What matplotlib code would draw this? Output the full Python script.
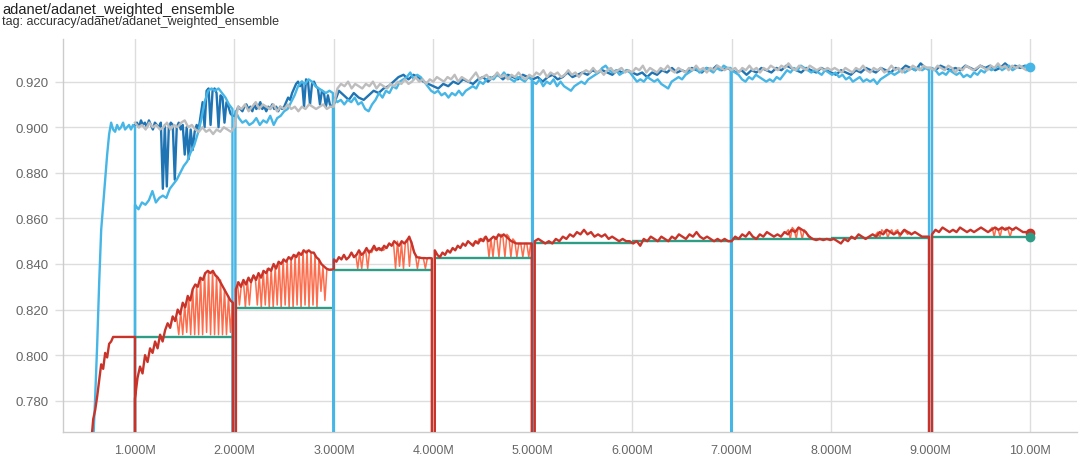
import numpy as np
import matplotlib
matplotlib.use("Agg")
import matplotlib.pyplot as plt

plt.rcParams['font.family'] = ['Liberation Sans', 'DejaVu Sans']

# value used where a run restarts and falls below the visible range
DROP = 0.70

# ---- light blue run ----
lb_a = [0.762, 0.782, 0.805, 0.832, 0.855, 0.866, 0.877, 0.888, 0.897, 0.902, 0.899,
        0.898, 0.901, 0.899, 0.900, 0.902, 0.899, 0.900, 0.901, 0.899, 0.901, 0.900]
lb_b = [0.866, 0.864, 0.867, 0.866, 0.868, 0.872, 0.867, 0.869, 0.870, 0.869, 0.873,
        0.875, 0.877, 0.880, 0.883, 0.885, 0.889, 0.892, 0.897, 0.903, 0.911, 0.916,
        0.917, 0.916, 0.917, 0.915, 0.913, 0.910, 0.908]
lb_c = [0.907, 0.904, 0.902, 0.903, 0.901, 0.902, 0.904, 0.901, 0.903, 0.902, 0.905,
        0.901, 0.904, 0.905, 0.907, 0.908, 0.911, 0.914, 0.918, 0.920, 0.919, 0.921,
        0.920, 0.918, 0.917, 0.916, 0.915, 0.916, 0.915]
lb_d = [0.913, 0.911, 0.912, 0.910, 0.912, 0.911, 0.913, 0.910, 0.911, 0.908, 0.907,
        0.910, 0.912, 0.915, 0.913, 0.916, 0.915, 0.918, 0.917, 0.920, 0.921, 0.922,
        0.924, 0.921, 0.923, 0.922, 0.920, 0.918, 0.916, 0.915, 0.916, 0.914, 0.915,
        0.913, 0.915, 0.914, 0.916, 0.914, 0.916, 0.917, 0.918, 0.917, 0.920, 0.919,
        0.921, 0.922, 0.921, 0.923, 0.922, 0.924, 0.922, 0.921, 0.920, 0.922, 0.921,
        0.920, 0.922, 0.921]
lb_e = [0.920, 0.919, 0.921, 0.918, 0.920, 0.919, 0.921, 0.918, 0.920, 0.918, 0.917,
        0.916, 0.918, 0.919, 0.920, 0.919, 0.921, 0.922, 0.923, 0.924, 0.926, 0.927,
        0.925, 0.924, 0.925, 0.923, 0.924, 0.925, 0.924, 0.922, 0.920, 0.921, 0.920,
        0.922, 0.921, 0.920, 0.921, 0.919, 0.918, 0.917, 0.920, 0.921, 0.922, 0.921,
        0.923, 0.924, 0.925, 0.926, 0.924, 0.925, 0.926, 0.925, 0.924, 0.926, 0.925,
        0.927, 0.926, 0.926]
lb_f = [0.925, 0.924, 0.923, 0.921, 0.920, 0.922, 0.921, 0.923, 0.922, 0.921, 0.920,
        0.921, 0.920, 0.922, 0.921, 0.923, 0.925, 0.924, 0.926, 0.925, 0.927, 0.926,
        0.925, 0.924, 0.925, 0.924, 0.923, 0.925, 0.924, 0.923, 0.924, 0.922, 0.923,
        0.921, 0.922, 0.920, 0.921, 0.922, 0.920, 0.921, 0.920, 0.921, 0.919, 0.921,
        0.922, 0.923, 0.924, 0.923, 0.924, 0.925, 0.924, 0.925, 0.926, 0.925, 0.926,
        0.925, 0.926, 0.925]
lb_g = [0.926, 0.925, 0.923, 0.924, 0.923, 0.925, 0.924, 0.923, 0.924, 0.922, 0.923,
        0.922, 0.924, 0.923, 0.925, 0.924, 0.926, 0.925, 0.926, 0.927, 0.925, 0.926,
        0.927, 0.925, 0.926, 0.927, 0.926, 0.927, 0.9266]
light_blue = [(0.58, 1.00, lb_a), (1.00, 1.00, [DROP]), (1.00, 1.98, lb_b),
              (1.98, 2.01, [DROP, DROP]), (2.01, 2.99, lb_c), (3.00, 3.00, [DROP]),
              (3.00, 4.99, lb_d), (5.00, 5.00, [DROP]), (5.00, 6.99, lb_e),
              (7.00, 7.00, [DROP]), (7.00, 8.985, lb_f), (8.985, 9.015, [DROP, DROP]),
              (9.015, 10.0, lb_g)]

# ---- grey run ----
gr_1 = [0.902, 0.900, 0.901, 0.899, 0.902, 0.900, 0.901, 0.899, 0.900, 0.902, 0.899,
        0.901, 0.900, 0.902, 0.903, 0.900, 0.901, 0.899, 0.898, 0.900, 0.898, 0.899,
        0.897, 0.899, 0.898, 0.900, 0.899, 0.898, 0.900]
gr_2 = [0.900, 0.909, 0.908, 0.910, 0.907, 0.909, 0.911, 0.908, 0.910, 0.909, 0.908,
        0.910, 0.907, 0.909, 0.908, 0.910, 0.908, 0.909, 0.907, 0.909, 0.908, 0.910,
        0.909, 0.908, 0.909, 0.910, 0.908, 0.909, 0.909]
gr_3 = [0.910, 0.917, 0.919, 0.918, 0.920, 0.917, 0.919, 0.918, 0.917, 0.919, 0.918,
        0.920, 0.917, 0.919, 0.918, 0.917, 0.919, 0.918, 0.920, 0.919, 0.921, 0.919,
        0.920, 0.922, 0.920, 0.921, 0.919, 0.921, 0.920]
gr_4 = [0.920, 0.922, 0.921, 0.920, 0.922, 0.921, 0.923, 0.920, 0.922, 0.921, 0.920,
        0.922, 0.924, 0.921, 0.922, 0.923, 0.921, 0.922, 0.924, 0.922, 0.923, 0.921,
        0.923, 0.922, 0.924, 0.922, 0.921, 0.923, 0.922]
gr_5 = [0.922, 0.924, 0.923, 0.925, 0.922, 0.924, 0.923, 0.924, 0.922, 0.923, 0.925,
        0.923, 0.924, 0.922, 0.924, 0.925, 0.924, 0.926, 0.924, 0.925, 0.923, 0.925,
        0.926, 0.924, 0.925, 0.926, 0.924, 0.925, 0.924]
gr_6 = [0.924, 0.926, 0.925, 0.927, 0.924, 0.926, 0.925, 0.924, 0.926, 0.925, 0.927,
        0.925, 0.924, 0.926, 0.925, 0.924, 0.926, 0.925, 0.927, 0.925, 0.926, 0.924,
        0.926, 0.925, 0.927, 0.926, 0.925, 0.926, 0.925]
gr_7 = [0.925, 0.926, 0.924, 0.926, 0.925, 0.927, 0.925, 0.926, 0.924, 0.926, 0.925,
        0.927, 0.926, 0.925, 0.927, 0.926, 0.928, 0.926, 0.925, 0.927, 0.926, 0.925,
        0.927, 0.926, 0.925, 0.926, 0.925, 0.926, 0.925]
gr_8 = [0.925, 0.926, 0.925, 0.924, 0.926, 0.925, 0.924, 0.926, 0.925, 0.927, 0.925,
        0.924, 0.926, 0.925, 0.926, 0.924, 0.925, 0.927, 0.925, 0.926, 0.924, 0.926,
        0.925, 0.927, 0.926, 0.925, 0.927, 0.926, 0.926]
gr_9 = [0.926, 0.925, 0.927, 0.926, 0.925, 0.927, 0.926, 0.924, 0.926, 0.925, 0.927,
        0.926, 0.925, 0.926, 0.927, 0.926, 0.925, 0.927, 0.926, 0.928, 0.926, 0.927,
        0.925, 0.927, 0.926, 0.927, 0.926, 0.925, 0.926]
grey = [(1.0, 2.0, gr_1), (2.0, 3.0, gr_2), (3.0, 4.0, gr_3), (4.0, 5.0, gr_4),
        (5.0, 6.0, gr_5), (6.0, 7.0, gr_6), (7.0, 8.0, gr_7), (8.0, 9.0, gr_8),
        (9.0, 10.0, gr_9)]

# ---- dark blue run ----
db_1 = [0.901, 0.902, 0.900, 0.903, 0.901, 0.902, 0.900, 0.903, 0.901, 0.899, 0.902,
        0.901, 0.900, 0.902, 0.873, 0.901, 0.874, 0.900, 0.902, 0.901, 0.877, 0.900,
        0.902, 0.899, 0.901, 0.888, 0.900, 0.886, 0.899, 0.890, 0.898, 0.901, 0.899,
        0.905, 0.911, 0.900, 0.916, 0.917, 0.901, 0.916, 0.917, 0.915, 0.900, 0.914,
        0.913, 0.902, 0.911, 0.909, 0.906, 0.905]
db_2 = [0.905, 0.907, 0.909, 0.908, 0.907, 0.909, 0.910, 0.908, 0.909, 0.907, 0.910,
        0.908, 0.909, 0.911, 0.908, 0.909, 0.907, 0.909, 0.908, 0.910, 0.908, 0.909,
        0.907, 0.909, 0.908, 0.909, 0.911, 0.913, 0.912, 0.915, 0.917, 0.919, 0.920,
        0.918, 0.920, 0.909, 0.921, 0.920, 0.910, 0.919, 0.920, 0.918, 0.917, 0.910,
        0.916, 0.915, 0.909, 0.914, 0.910, 0.909]
db_3 = [0.910, 0.916, 0.914, 0.912, 0.915, 0.913, 0.912, 0.914, 0.916, 0.915, 0.917,
        0.918, 0.920, 0.922, 0.923, 0.921, 0.923, 0.922, 0.920, 0.919, 0.918]
db_4 = [0.918, 0.917, 0.919, 0.918, 0.920, 0.919, 0.921, 0.920, 0.919, 0.921, 0.922,
        0.920, 0.922, 0.923, 0.921, 0.923, 0.922, 0.921, 0.923, 0.922, 0.921]
db_5 = [0.921, 0.922, 0.920, 0.922, 0.923, 0.921, 0.922, 0.924, 0.922, 0.923, 0.924,
        0.923, 0.925, 0.924, 0.925, 0.924, 0.923, 0.925, 0.924, 0.925, 0.924]
db_6 = [0.924, 0.923, 0.924, 0.922, 0.924, 0.923, 0.925, 0.924, 0.926, 0.924, 0.925,
        0.924, 0.926, 0.925, 0.924, 0.926, 0.925, 0.927, 0.925, 0.926, 0.925]
db_7 = [0.925, 0.924, 0.925, 0.923, 0.925, 0.924, 0.926, 0.925, 0.924, 0.926, 0.925,
        0.927, 0.926, 0.925, 0.924, 0.926, 0.925, 0.924, 0.926, 0.925, 0.924]
db_8 = [0.924, 0.923, 0.925, 0.924, 0.923, 0.925, 0.924, 0.926, 0.925, 0.924, 0.926,
        0.925, 0.924, 0.926, 0.925, 0.927, 0.926, 0.925, 0.928, 0.926, 0.926]
db_9 = [0.926, 0.925, 0.927, 0.926, 0.925, 0.926, 0.925, 0.927, 0.926, 0.925, 0.927,
        0.926, 0.927, 0.925, 0.926, 0.928, 0.926, 0.927, 0.926, 0.927, 0.926]
dark_blue = [(1.0, 1.98, db_1), (2.0, 2.98, db_2), (3.0, 4.0, db_3), (4.0, 5.0, db_4),
             (5.0, 6.0, db_5), (6.0, 7.0, db_6), (7.0, 8.0, db_7), (8.0, 9.0, db_8),
             (9.0, 10.0, db_9)]

# ---- red run ----
rd_0 = [0.762, 0.772, 0.776, 0.782, 0.789, 0.796, 0.794, 0.801, 0.799, 0.805, 0.806,
        0.808, 0.808, 0.808, 0.808, 0.808, 0.808, 0.808, 0.808, 0.808, 0.808, 0.808,
        0.808]
rd_1 = [0.781, 0.790, 0.795, 0.792, 0.800, 0.797, 0.803, 0.801, 0.806, 0.803, 0.809,
        0.806, 0.811, 0.814, 0.812, 0.817, 0.815, 0.820, 0.818, 0.823, 0.821, 0.826,
        0.824, 0.829, 0.831, 0.830, 0.834, 0.833, 0.836, 0.837, 0.836, 0.837, 0.835,
        0.834, 0.832, 0.830, 0.828, 0.826, 0.824, 0.823]
rd_2 = [0.829, 0.832, 0.830, 0.833, 0.831, 0.834, 0.832, 0.835, 0.833, 0.836, 0.834,
        0.837, 0.836, 0.838, 0.837, 0.840, 0.838, 0.841, 0.840, 0.842, 0.841, 0.843,
        0.842, 0.844, 0.843, 0.845, 0.844, 0.846, 0.845, 0.846, 0.845, 0.845, 0.843,
        0.842, 0.840, 0.839, 0.838, 0.8375, 0.8375, 0.8378]
rd_3 = [0.842, 0.841, 0.843, 0.842, 0.844, 0.842, 0.843, 0.845, 0.843, 0.844, 0.846,
        0.844, 0.845, 0.847, 0.845, 0.846, 0.848, 0.846, 0.847, 0.846, 0.848, 0.847,
        0.849, 0.848, 0.850, 0.849, 0.848, 0.850, 0.849, 0.850, 0.852, 0.849, 0.845,
        0.843, 0.8428, 0.8426, 0.8426, 0.8425, 0.8426, 0.8425]
rd_4 = [0.846, 0.844, 0.843, 0.845, 0.844, 0.846, 0.845, 0.847, 0.846, 0.848, 0.847,
        0.849, 0.848, 0.850, 0.849, 0.848, 0.850, 0.849, 0.851, 0.850, 0.852, 0.850,
        0.851, 0.852, 0.851, 0.853, 0.852, 0.853, 0.852, 0.851, 0.850, 0.8495, 0.849,
        0.849, 0.849, 0.849, 0.849, 0.849, 0.849]
rd_5 = [0.850, 0.851, 0.850, 0.849, 0.850, 0.849, 0.851, 0.850, 0.852, 0.851, 0.853,
        0.852, 0.854, 0.853, 0.855, 0.853, 0.854, 0.852, 0.853, 0.852, 0.853, 0.851,
        0.852, 0.851, 0.850, 0.851, 0.850, 0.850, 0.849, 0.850, 0.848, 0.851, 0.850,
        0.852, 0.851, 0.850, 0.852, 0.851, 0.850, 0.852, 0.851, 0.853, 0.852, 0.851,
        0.853, 0.852, 0.854, 0.852, 0.851, 0.852, 0.851, 0.850, 0.851, 0.850, 0.851,
        0.850, 0.850]
rd_6 = [0.850, 0.852, 0.851, 0.853, 0.852, 0.854, 0.852, 0.851, 0.853, 0.852, 0.854,
        0.853, 0.852, 0.853, 0.852, 0.854, 0.853, 0.855, 0.854, 0.856, 0.855, 0.854,
        0.852, 0.851, 0.8505, 0.851, 0.8505, 0.851, 0.8505, 0.851, 0.850, 0.849, 0.851,
        0.850, 0.852, 0.851, 0.853, 0.852, 0.851, 0.852, 0.853, 0.852, 0.854, 0.853,
        0.855, 0.854, 0.853, 0.854, 0.853, 0.855, 0.854, 0.853, 0.854, 0.853, 0.852,
        0.852, 0.852]
rd_7 = [0.853, 0.855, 0.854, 0.856, 0.855, 0.854, 0.855, 0.854, 0.856, 0.855, 0.854,
        0.855, 0.854, 0.855, 0.856, 0.855, 0.854, 0.855, 0.856, 0.855, 0.856, 0.855,
        0.856, 0.855, 0.856, 0.855, 0.854, 0.854, 0.8536]
red = [(0.56, 1.0, rd_0), (1.0, 1.0, [DROP]), (1.0, 1.985, rd_1),
       (1.985, 2.015, [DROP, DROP]), (2.015, 3.0, rd_2), (3.0, 3.985, rd_3),
       (3.985, 4.015, [DROP, DROP]), (4.015, 4.99, rd_4), (4.99, 5.02, [DROP, DROP]),
       (5.02, 7.0, rd_5), (7.0, 8.985, rd_6), (8.985, 9.015, [DROP, DROP]),
       (9.015, 10.0, rd_7)]

# ---- orange run (only where it leaves the red one) ----
or_a = [0.815, 0.816, 0.809, 0.819, 0.809, 0.822, 0.810, 0.825, 0.809, 0.829, 0.809,
        0.831, 0.809, 0.834, 0.809, 0.836, 0.810, 0.837, 0.809, 0.837, 0.809, 0.835,
        0.809, 0.833, 0.809, 0.829, 0.809, 0.826, 0.810, 0.823]
or_b = [0.832, 0.822, 0.831, 0.833, 0.821, 0.833, 0.822, 0.833, 0.835, 0.834, 0.822,
        0.835, 0.821, 0.837, 0.822, 0.838, 0.821, 0.838, 0.821, 0.839, 0.822, 0.841,
        0.821, 0.842, 0.822, 0.842, 0.821, 0.843, 0.821, 0.844, 0.822, 0.845, 0.821,
        0.846, 0.822, 0.846, 0.821, 0.845, 0.822, 0.844, 0.821, 0.842, 0.828, 0.839,
        0.824, 0.838, 0.8375, 0.8376]
or_c = [0.843, 0.844, 0.838, 0.845, 0.838, 0.845, 0.846, 0.838, 0.846, 0.845, 0.847,
        0.846, 0.847, 0.846, 0.847, 0.846, 0.847, 0.848, 0.849, 0.848, 0.849, 0.838,
        0.850, 0.839, 0.849, 0.838, 0.850, 0.851, 0.839, 0.850, 0.846, 0.844, 0.838,
        0.843, 0.8426, 0.8426, 0.838, 0.8426, 0.8426]
or_d = [0.849, 0.850, 0.849, 0.851, 0.850, 0.851, 0.852, 0.851, 0.843, 0.851, 0.843,
        0.852, 0.851, 0.843, 0.853, 0.852, 0.843, 0.853, 0.852, 0.843, 0.851, 0.850,
        0.843, 0.849, 0.849, 0.843, 0.849, 0.849, 0.843, 0.849]
or_e = [0.854, 0.855, 0.851, 0.856, 0.855, 0.8512, 0.856, 0.855, 0.851, 0.855, 0.854,
        0.852, 0.852]
or_f = [0.853, 0.854, 0.8515, 0.855, 0.854, 0.855, 0.8515, 0.854, 0.855, 0.853, 0.8545,
        0.855, 0.8515, 0.854, 0.855, 0.854, 0.853, 0.854, 0.853]
or_g = [0.855, 0.856, 0.852, 0.856, 0.855, 0.852, 0.856, 0.855, 0.856, 0.855, 0.852,
        0.855, 0.855]
orange = [(1.40, 1.98, or_a), (2.03, 2.97, or_b), (3.20, 3.96, or_c), (4.40, 4.98, or_d),
          (7.55, 7.79, or_e), (8.45, 8.81, or_f), (9.60, 9.84, or_g)]

# ---- teal run: best value kept per iteration ----
teal_start = [1.00, 2.015, 3.00, 4.015, 5.02, 6.00, 7.00, 8.00, 9.015]
teal_end = [1.985, 2.98, 3.985, 4.99, 6.00, 7.00, 8.00, 8.985, 10.00]
teal_vals = [0.8080, 0.8205, 0.8372, 0.8426, 0.8491, 0.8503, 0.8510, 0.8514, 0.8520]

x_ticks = [1, 2, 3, 4, 5, 6, 7, 8, 9, 10]
x_labels = ["1.000M", "2.000M", "3.000M", "4.000M", "5.000M",
            "6.000M", "7.000M", "8.000M", "9.000M", "10.00M"]
y_ticks = [0.780, 0.800, 0.820, 0.840, 0.860, 0.880, 0.900, 0.920]


def build(segs):
    xs, ys = [], []
    for x0, x1, vals in segs:
        xs.extend(np.linspace(x0, x1, len(vals)))
        ys.extend(vals)
    return np.array(xs), np.array(ys)


C_LIGHT = "#45b6e6"
C_DARK = "#1f74b4"
C_GREY = "#bdbdbd"
C_RED = "#c9342a"
C_ORANGE = "#fb6d4c"
C_TEAL = "#2f9d86"

fig = plt.figure(figsize=(10.8, 4.56), dpi=100)
ax = fig.add_axes([63 / 1080, 23 / 456, 1014 / 1080, 393 / 456])

lw = 1.7
x, y = build(dark_blue)
ax.plot(x, y, color=C_DARK, lw=lw, zorder=2)
x, y = build(light_blue)
ax.plot(x, y, color=C_LIGHT, lw=lw, zorder=3)
x, y = build(grey)
ax.plot(x, y, color=C_GREY, lw=lw, zorder=4)

for seg in orange:
    x, y = build([seg])
    ax.plot(x, y, color=C_ORANGE, lw=1.1, zorder=5)
ax.hlines(teal_vals, teal_start, teal_end, color=C_TEAL, lw=lw, zorder=6)
x, y = build(red)
ax.plot(x, y, color=C_RED, lw=lw, zorder=7)

# end-of-run dots
ax.plot(light_blue[-1][1], lb_g[-1], 'o', color=C_LIGHT, ms=6, zorder=8)
ax.plot(red[-1][1], rd_7[-1], 'o', color=C_RED, ms=6, zorder=8)
ax.plot(teal_end[-1], teal_vals[-1], 'o', color=C_TEAL, ms=6, zorder=8)

ax.set_xlim(0.276, 10.473)
ax.set_ylim(0.7663, 0.9387)
ax.set_xticks(x_ticks)
ax.set_xticklabels(x_labels)
ax.set_yticks(y_ticks)
ax.set_yticklabels(["%.3f" % v for v in y_ticks])
ax.grid(True, color="#dddddd", lw=1.0, zorder=0)
ax.set_axisbelow(True)
ax.tick_params(axis='x', length=0, pad=9, labelsize=9, labelcolor="#666666")
ax.tick_params(axis='y', length=6, width=1, color="#dddddd", pad=4, labelsize=9.5,
               labelcolor="#666666")
for side in ['top', 'right']:
    ax.spines[side].set_visible(False)
for side in ['left', 'bottom']:
    ax.spines[side].set_color("#cccccc")
    ax.spines[side].set_linewidth(1.0)

fig.text(2 / 1080, 1 - 10 / 456, "adanet/adanet_weighted_ensemble", fontsize=10.5,
         color="#222222", va='center', ha='left')
fig.text(2 / 1080, 1 - 22 / 456, "tag: accuracy/adanet/adanet_weighted_ensemble",
         fontsize=9, color="#333333", va='center', ha='left')

fig.savefig("out.png", dpi=100)
